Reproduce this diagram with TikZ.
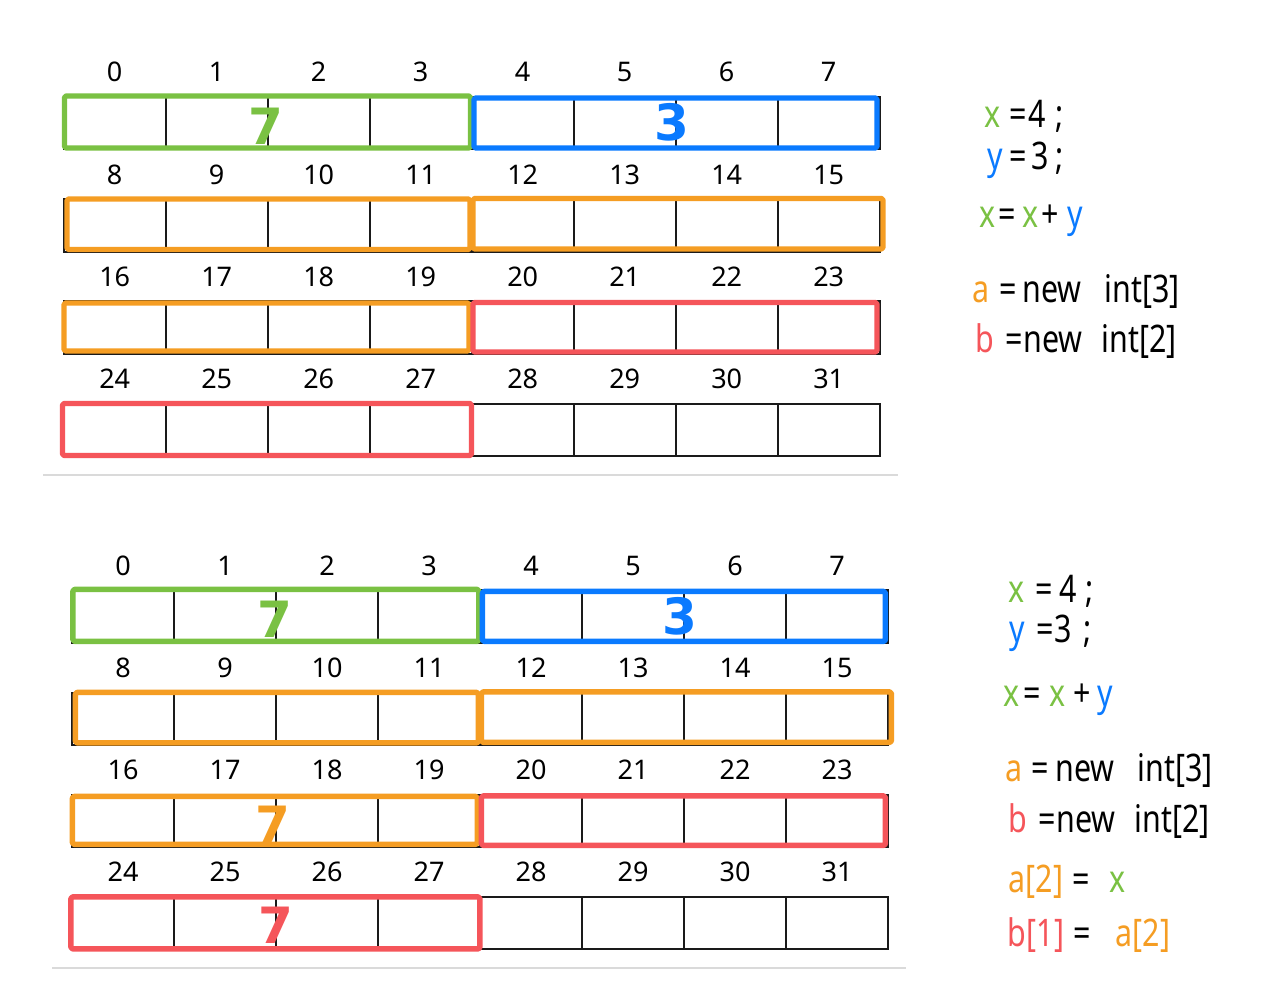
\documentclass[tikz,border=0pt]{standalone}
\usepackage{fontspec}
\usepackage{graphicx}
\setmainfont{Noto Sans}
\newfontfamily\bigfont{DejaVu Sans}
\definecolor{cgreen}{HTML}{7AC143}
\definecolor{cblue}{HTML}{0A7AFF}
\definecolor{corange}{HTML}{F59D23}
\definecolor{cred}{HTML}{F5555A}
\definecolor{cgrid}{HTML}{1A1A1A}
\definecolor{csep}{HTML}{DADADA}
\newcommand\hws[1]{\scalebox{0.8}[1]{#1}}
\tikzset{
  cell/.style={draw=cgrid, line width=1pt, minimum width=51pt, minimum height=26.2pt, inner sep=0pt, outer sep=0pt, anchor=north west},
  lbl/.style={anchor=base, inner sep=0pt, font=\fontsize{13.5}{16}\selectfont, text=black},
  hl/.style={line width=2.7pt, line join=round, rounded corners=0.8pt},
  sepline/.style={draw=csep, line width=1pt},
  hw/.style={anchor=base, inner sep=0pt, font=\fontsize{19}{22}\selectfont, text=black},
  big/.style={anchor=center, inner sep=0pt, font=\bigfont\fontsize{25}{30}\selectfont\bfseries},
}
\newcommand\drawpanel[1]{%
  \foreach \r in {0,...,3}{%
    \foreach \c in {0,...,7}{%
      \pgfmathtruncatemacro\n{8*\r+\c}%
      \node[cell] (#1c\n) at ({63.7+102*\c},{97+102.2*\r}) {};
      \node[lbl] (#1l\n) at ({114.7+102*\c},{82+102.2*\r}) {\n};
    }%
  }%
}
\begin{document}
\begin{tikzpicture}[x=0.5pt,y=-0.5pt]
\useasboundingbox (0,0) rectangle (1276,999);
\fill[white] (0,0) rectangle (1276,999);

% ---------- top panel ----------
\drawpanel{t}
\draw[hl, cgreen]  (64.5,96)  rectangle (470.5,148);
\draw[hl, cblue]   (474,98)   rectangle (877,148);
\draw[hl, corange] (67,199)   rectangle (470,249.5);
\draw[hl, corange] (473,198.5) rectangle (883,249);
\draw[hl, corange] (64,303)   rectangle (469,351);
\draw[hl, cred]    (473,302.5) rectangle (877,352);
\draw[hl, cred]    (62.5,403.5) rectangle (471.5,455.5);
\node[big, text=cgreen] (tv7) at (266,126) {7};
\node[big, text=cblue]  (tv3) at (672,122) {3};
\draw[sepline] (43,475.5) -- (898,475.5);

% code, top
\node[hw, text=cgreen] (ta1) at (993,128) {\hws{x}};
\node[hw] (ta2) at (1018,128) {\hws{=}};
\node[hw] (ta3) at (1037,128) {\hws{4}};
\node[hw] (ta4) at (1060,128) {\hws{;}};
\node[hw, text=cblue] (tb1) at (995,170) {\hws{y}};
\node[hw] (tb2) at (1018,170) {\hws{=}};
\node[hw] (tb3) at (1040,170) {\hws{3}};
\node[hw] (tb4) at (1060,170) {\hws{;}};
\node[hw, text=cgreen] (tc1) at (988,228) {\hws{x}};
\node[hw] (tc2) at (1007,228) {\hws{=}};
\node[hw, text=cgreen] (tc3) at (1031,228) {\hws{x}};
\node[hw] (tc4) at (1050,228) {\hws{+}};
\node[hw, text=cblue] (tc5) at (1075,228) {\hws{y}};
\node[hw, text=corange] (td1) at (981,303) {\hws{a}};
\node[hw] (td2) at (1008,303) {\hws{=}};
\node[hw] (td3) at (1052,303) {\hws{new}};
\node[hw] (td4) at (1142,303) {\hws{int[3]}};
\node[hw, text=cred] (te1) at (985,353) {\hws{b}};
\node[hw] (te2) at (1014,353) {\hws{=}};
\node[hw] (te3) at (1053,353) {\hws{new}};
\node[hw] (te4) at (1139,353) {\hws{int[2]}};

% ---------- bottom panel ----------
\begin{scope}[shift={(8.4,493.4)}]
\drawpanel{b}
\draw[hl, cgreen]  (64.5,96)  rectangle (470.5,148);
\draw[hl, cblue]   (474,98)   rectangle (877,148);
\draw[hl, corange] (67,199)   rectangle (470,249.5);
\draw[hl, corange] (473,198.5) rectangle (883,249);
\draw[hl, corange] (64,303)   rectangle (469,351);
\draw[hl, cred]    (473,302.5) rectangle (877,352);
\draw[hl, cred]    (62.5,403.5) rectangle (471.5,455.5);
\node[big, text=cgreen]  (bv7) at (266,126) {7};
\node[big, text=cblue]   (bv3) at (671,122.5) {3};
\node[big, text=corange] (bv7o) at (264.5,331) {7};
\node[big, text=cred]    (bv7r) at (267.5,432) {7};
\end{scope}
\draw[sepline] (52,968) -- (906,968);

% code, bottom
\node[hw, text=cgreen] (ba1) at (1017,603) {\hws{x}};
\node[hw] (ba2) at (1044,603) {\hws{=}};
\node[hw] (ba3) at (1068,603) {\hws{4}};
\node[hw] (ba4) at (1090,603) {\hws{;}};
\node[hw, text=cblue] (bb1) at (1017,643) {\hws{y}};
\node[hw] (bb2) at (1045,643) {\hws{=}};
\node[hw] (bb3) at (1063,643) {\hws{3}};
\node[hw] (bb4) at (1088,643) {\hws{;}};
\node[hw, text=cgreen] (bc1) at (1012,707) {\hws{x}};
\node[hw] (bc2) at (1032,707) {\hws{=}};
\node[hw, text=cgreen] (bc3) at (1058,707) {\hws{x}};
\node[hw] (bc4) at (1082,707) {\hws{+}};
\node[hw, text=cblue] (bc5) at (1105,707) {\hws{y}};
\node[hw, text=corange] (bd1) at (1014,782) {\hws{a}};
\node[hw] (bd2) at (1040,782) {\hws{=}};
\node[hw] (bd3) at (1085,782) {\hws{new}};
\node[hw] (bd4) at (1175,782) {\hws{int[3]}};
\node[hw, text=cred] (be1) at (1018,833) {\hws{b}};
\node[hw] (be2) at (1047,833) {\hws{=}};
\node[hw] (be3) at (1086,833) {\hws{new}};
\node[hw] (be4) at (1172,833) {\hws{int[2]}};
\node[hw, text=corange] (bf1) at (1036,893) {\hws{a[2]}};
\node[hw] (bf2) at (1081,893) {\hws{=}};
\node[hw, text=cgreen] (bf3) at (1118,893) {\hws{x}};
\node[hw, text=cred] (bg1) at (1036,947) {\hws{b[1]}};
\node[hw] (bg2) at (1082,947) {\hws{=}};
\node[hw, text=corange] (bg3) at (1143,947) {\hws{a[2]}};
\end{tikzpicture}
\end{document}
